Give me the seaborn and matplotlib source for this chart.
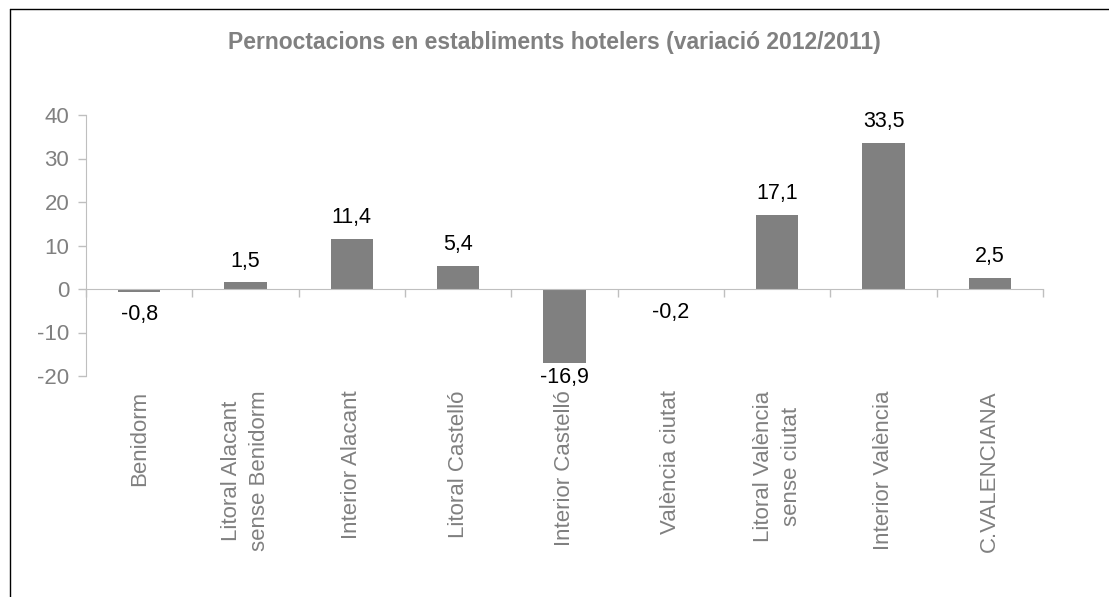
import numpy as np
import pandas as pd
import matplotlib
matplotlib.use("Agg")
import matplotlib.pyplot as plt
from matplotlib.lines import Line2D
from matplotlib.ticker import FixedLocator
import seaborn as sns

categories = ["Benidorm", "Litoral Alacant\nsense Benidorm", "Interior Alacant",
              "Litoral Castelló", "Interior Castelló", "València ciutat",
              "Litoral València\nsense ciutat", "Interior València", "C.VALENCIANA"]
values = [-0.8, 1.5, 11.4, 5.4, -16.9, -0.2, 17.1, 33.5, 2.5]
yticks = [-20, -10, 0, 10, 20, 30, 40]
title = "Pernoctacions en establiments hotelers (variació 2012/2011)"

sns.set_style("white")
plt.rcParams["font.family"] = ["Liberation Sans", "DejaVu Sans"]
plt.rcParams["axes.unicode_minus"] = False

GRAY_TXT = "#808080"
AXIS = "#bfbfbf"
BAR = "#808080"

df = pd.DataFrame({"cat": categories, "val": values})

fig = plt.figure(figsize=(11.09, 5.97), dpi=100)
ax = fig.add_axes([86/1109, 1-376/597, (1043-86)/1109, (376-115)/597])

sns.barplot(data=df, x="cat", y="val", color=BAR, width=0.4, saturation=1,
            ax=ax, edgecolor="none")

ymin, ymax = yticks[0], yticks[-1]
ax.set_ylim(ymin, ymax)
ax.set_xlim(-0.5, len(categories) - 0.5)
ax.set_yticks(yticks)
ax.set_yticklabels([str(t) for t in yticks], color=GRAY_TXT, fontsize=16)
ax.set_xlabel("")
ax.set_ylabel("")

for s in ["top", "right"]:
    ax.spines[s].set_visible(False)
ax.spines["left"].set_color(AXIS)
ax.spines["bottom"].set_color(AXIS)
ax.spines["bottom"].set_position(("data", 0))

ax.tick_params(axis="y", length=6, color=AXIS, width=1, pad=6, left=True)
ax.set_xticks(range(len(categories)))
ax.set_xticklabels(categories, rotation=90, color=GRAY_TXT, fontsize=16,
                   ha="center", va="top", multialignment="center", linespacing=1.45)
ax.tick_params(axis="x", which="major", length=0, pad=73, bottom=True)
ax.xaxis.set_minor_locator(FixedLocator(np.arange(-0.5, len(categories), 1)))
ax.tick_params(axis="x", which="minor", length=6, color=AXIS, width=1, bottom=True)

for i, v in enumerate(values):
    lab = f"{v:.1f}".replace(".", ",")
    if v >= 0:
        ax.annotate(lab, (i, v), xytext=(0, 11.5), textcoords="offset points",
                    ha="center", va="baseline", fontsize=15.5, color="black")
    else:
        off = -3 if v < 0.75 * ymin else -8.6
        ax.annotate(lab, (i, v), xytext=(0, off), textcoords="offset points",
                    ha="center", va="top", fontsize=15.5, color="black")

fig.text(0.5, 1-43/597, title, ha="center", va="center", fontsize=16.5,
         fontweight="bold", color=GRAY_TXT)

fig.add_artist(Line2D([10/1109, 10/1109], [0, 1-9/597], transform=fig.transFigure,
                      color="black", lw=1))
fig.add_artist(Line2D([10/1109, 1], [1-9/597, 1-9/597], transform=fig.transFigure,
                      color="black", lw=1))

fig.savefig("out.png", dpi=100, facecolor="white")
